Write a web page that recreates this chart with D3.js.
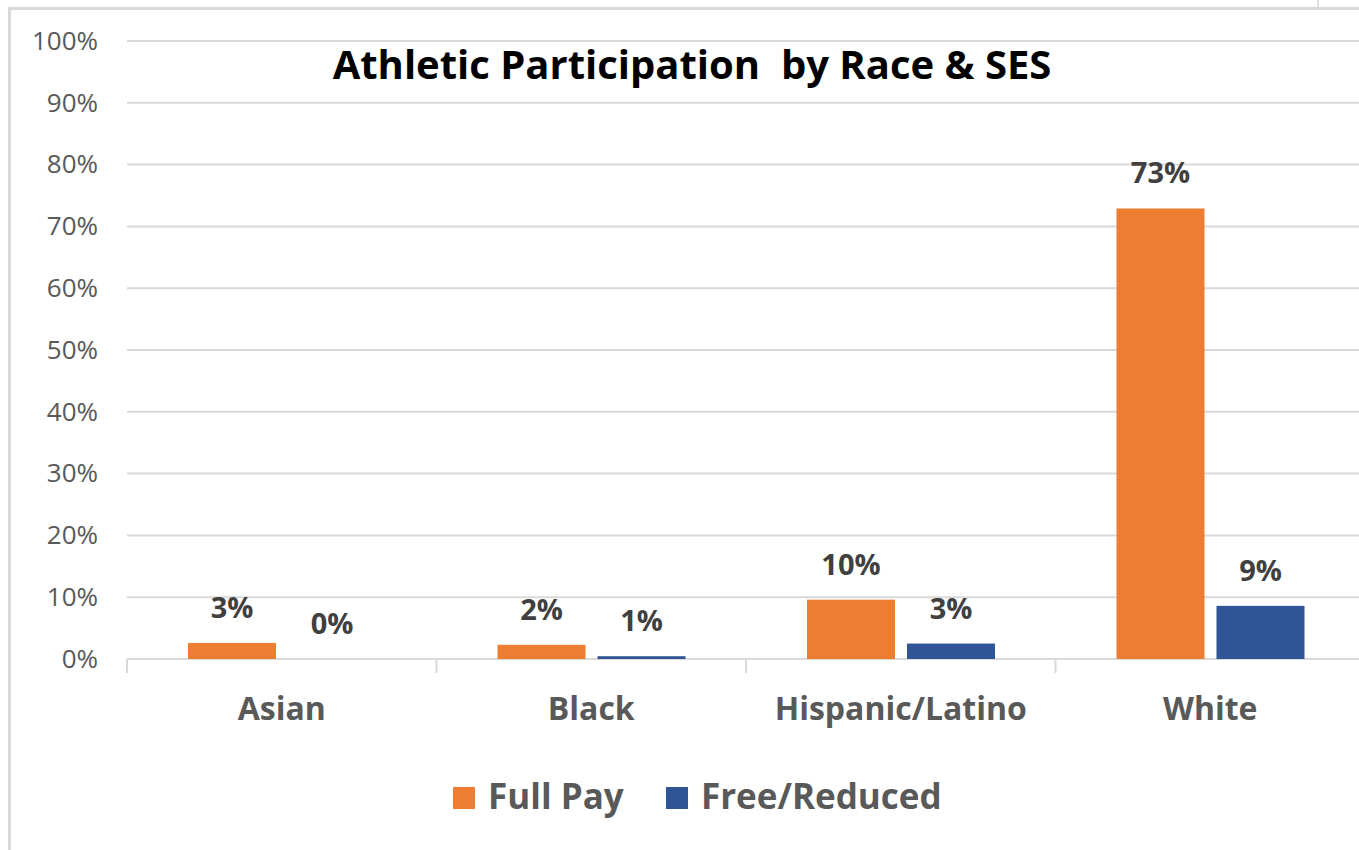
<!DOCTYPE html>
<html>
<head>
<meta charset="utf-8">
<script src="https://cdn.jsdelivr.net/npm/d3@7"></script>
<style>
 body { margin: 0; background: #fff; }
 svg { display: block; font-family: "Open Sans", sans-serif; }
</style>
</head>
<body>
<svg width="1359" height="850"></svg>
<script>
// Data
var categories = ["Asian", "Black", "Hispanic/Latino", "White"];
var seriesNames = ["Full Pay", "Free/Reduced"];
var fullPay = [2.6, 2.3, 9.6, 72.9];
var freeReduced = [0.0, 0.45, 2.5, 8.6];
var fullPayLabels = ["3%", "2%", "10%", "73%"];
var freeReducedLabels = ["0%", "1%", "3%", "9%"];
var yTicks = [0, 10, 20, 30, 40, 50, 60, 70, 80, 90, 100];
var colors = ["#ED7D31", "#2F5597"];

var svg = d3.select("svg");

// chart frame
svg.append("rect")
 .attr("x", 9.5).attr("y", 8.5)
 .attr("width", 1400).attr("height", 900)
 .attr("fill", "#fff")
 .attr("stroke", "#d9d9d9")
 .attr("stroke-width", 3);
svg.append("line")
 .attr("x1", 1318).attr("x2", 1318).attr("y1", 0).attr("y2", 7)
 .attr("stroke", "#bfbfbf");

// scales
var x0 = d3.scaleBand()
 .domain(categories)
 .range([127, 1365])
 .paddingInner(0).paddingOuter(0);
var x1 = d3.scaleBand()
 .domain(seriesNames)
 .range([61, 310 - 61])
 .paddingInner(0.12);
var y = d3.scaleLinear()
 .domain([0, 100])
 .range([659, 41]);

// gridlines
svg.append("g")
 .selectAll("line")
 .data(yTicks)
 .enter().append("line")
 .attr("x1", 127).attr("x2", 1359)
 .attr("y1", function (d) { return y(d); })
 .attr("y2", function (d) { return y(d); })
 .attr("stroke", "#d9d9d9")
 .attr("stroke-width", 2);

// y axis labels
var yAxis = d3.axisLeft(y)
 .tickValues(yTicks)
 .tickSize(0)
 .tickPadding(0)
 .tickFormat(function (d) { return d + "%"; });
var gy = svg.append("g")
 .attr("transform", "translate(98,0)")
 .call(yAxis);
gy.select(".domain").remove();
gy.selectAll("text")
 .attr("fill", "#595959")
 .style("font-size", "26px")
 .style("font-family", "'Open Sans', sans-serif");

// category ticks
var boundaries = categories.map(function (c) { return x0(c); }).concat([x0.range()[1]]);
svg.append("g")
 .selectAll("line")
 .data(boundaries)
 .enter().append("line")
 .attr("x1", function (d) { return d; })
 .attr("x2", function (d) { return d; })
 .attr("y1", 659).attr("y2", 673)
 .attr("stroke", "#d9d9d9")
 .attr("stroke-width", 2);

// bars
var rows = categories.map(function (c, i) {
 return { cat: c, vals: [
 { s: seriesNames[0], v: fullPay[i], lab: fullPayLabels[i], k: 0 },
 { s: seriesNames[1], v: freeReduced[i], lab: freeReducedLabels[i], k: 1 }
 ]};
});

var groups = svg.append("g")
 .selectAll("g")
 .data(rows)
 .enter().append("g")
 .attr("transform", function (d) { return "translate(" + x0(d.cat) + ",0)"; });

groups.selectAll("rect")
 .data(function (d) { return d.vals; })
 .enter().append("rect")
 .attr("x", function (d) { return x1(d.s); })
 .attr("width", x1.bandwidth())
 .attr("y", function (d) { return y(d.v); })
 .attr("height", function (d) { return y(0) - y(d.v); })
 .attr("fill", function (d) { return colors[d.k]; });

groups.selectAll("text")
 .data(function (d) { return d.vals; })
 .enter().append("text")
 .attr("x", function (d) { return x1(d.s) + x1.bandwidth() / 2; })
 .attr("y", function (d) { return y(d.v) - 25; })
 .attr("text-anchor", "middle")
 .attr("fill", "#404040")
 .style("font-size", "29px")
 .style("font-weight", "bold")
 .text(function (d) { return d.lab; });

// category labels
svg.append("g")
 .selectAll("text")
 .data(categories)
 .enter().append("text")
 .attr("x", function (d) { return x0(d) + x0.bandwidth() / 2; })
 .attr("y", 720)
 .attr("text-anchor", "middle")
 .attr("fill", "#595959")
 .style("font-size", "32px")
 .style("font-weight", "bold")
 .text(function (d) { return d; });

// title
svg.append("text")
 .attr("x", 692)
 .attr("y", 79)
 .attr("text-anchor", "middle")
 .attr("fill", "#000")
 .attr("xml:space", "preserve")
 .style("font-size", "40px")
 .style("font-weight", "bold")
 .text("Athletic Participation  by Race & SES");

// legend
var legendX = [453, 666];
var legend = svg.append("g")
 .selectAll("g")
 .data(seriesNames)
 .enter().append("g")
 .attr("transform", function (d, i) { return "translate(" + legendX[i] + ",787)"; });
legend.append("rect")
 .attr("width", 22).attr("height", 22)
 .attr("fill", function (d, i) { return colors[i]; });
legend.append("text")
 .attr("x", 35)
 .attr("y", 22)
 .attr("fill", "#595959")
 .style("font-size", "35px")
 .style("font-weight", "bold")
 .text(function (d) { return d; });
</script>
</body>
</html>
